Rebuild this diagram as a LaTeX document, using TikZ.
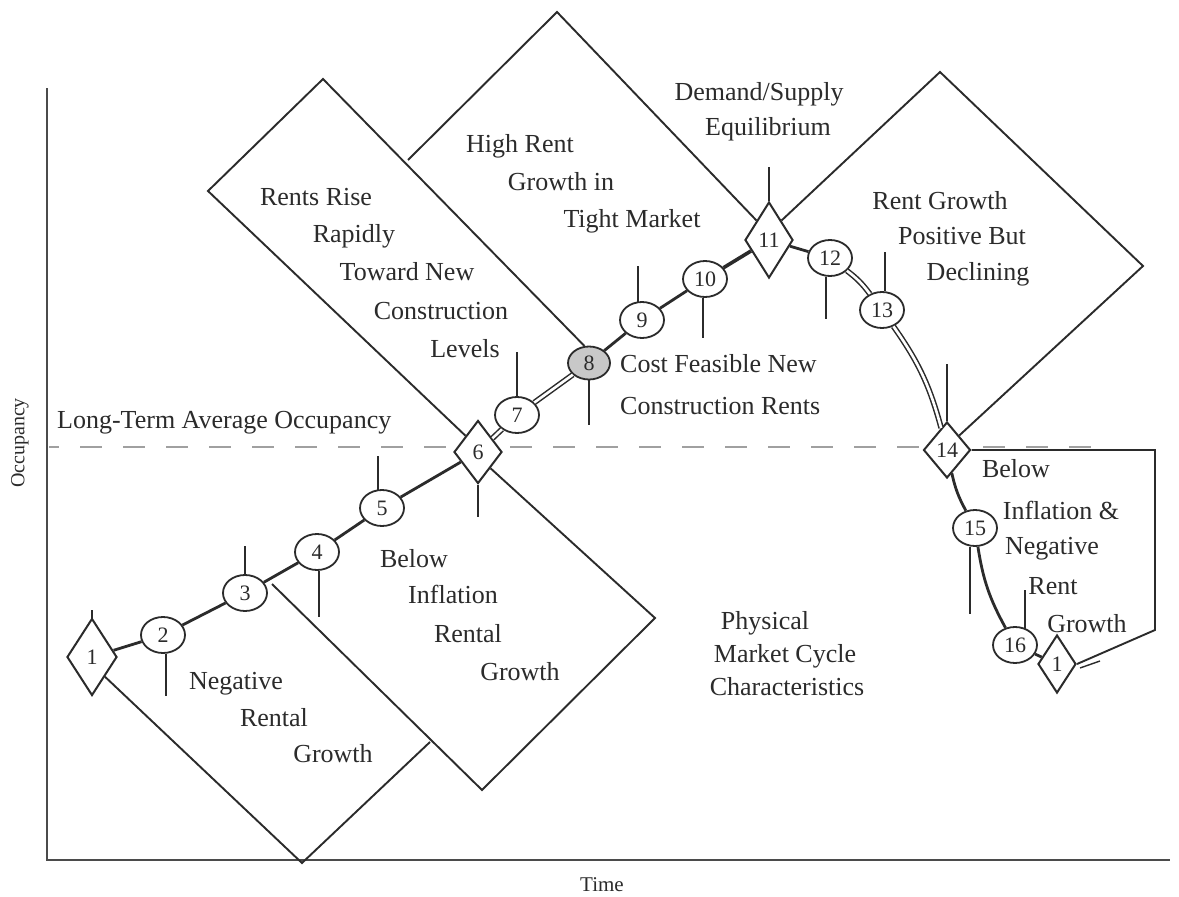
\documentclass[tikz,border=0pt]{standalone}
\usepackage{fontspec}
\setmainfont{Liberation Serif}
\usetikzlibrary{shapes.geometric}
\definecolor{ink}{HTML}{2B2B2B}
\definecolor{shade}{HTML}{C8C8C8}
\definecolor{avgline}{HTML}{A0A0A0}
\begin{document}
\begin{tikzpicture}[x=1pt,y=-1pt,
  lbl/.style={font=\fontsize{26}{28}\selectfont, text=ink, inner sep=0pt, anchor=base},
  stage/.style={ellipse, draw=ink, line width=1.8pt, fill=white, minimum width=44pt,
    minimum height=36pt, inner sep=0pt, text=ink, font=\fontsize{22}{22}\selectfont},
  turn/.style={diamond, draw=ink, line width=2pt, fill=white, inner sep=0pt, text=ink,
    font=\fontsize{22}{22}\selectfont},
  frame/.style={draw=ink, line width=1.9pt, line join=miter},
  trend/.style={draw=ink, line width=2.8pt},
  twin/.style={draw=ink, line width=1.5pt, double=white, double distance=2.6pt},
  tick/.style={draw=ink, line width=1.8pt},
  axis/.style={draw=ink!85, line width=2.5pt},
  avg/.style={draw=avgline, line width=2.5pt, dash pattern=on 22pt off 21pt, dash phase=12pt},
]
\fill[white] (0,0) rectangle (1179,897);
\useasboundingbox (0,0) rectangle (1179,897);

% axes and the long-term average
\draw[axis] (47,88) -- (47,860) -- (1170,860);
\draw[avg] (49,447) -- (1100,447);

% cycle stages
\node[turn, minimum width=50pt, minimum height=77pt] (d1) at (92,657) {1};
\node[stage] (c2) at (163,635) {2};
\node[stage] (c3) at (245,593) {3};
\node[stage] (c4) at (317,552) {4};
\node[stage] (c5) at (382,508) {5};
\node[turn, minimum width=48pt, minimum height=63pt] (d6) at (478,452) {6};
\node[stage] (c7) at (517,415) {7};
\node[stage, fill=shade, minimum width=42pt, minimum height=33pt] (c8) at (589,363) {8};
\node[stage] (c9) at (642,320) {9};
\node[stage] (c10) at (705,279) {10};
\node[turn, minimum width=48pt, minimum height=76pt] (d11) at (769,240) {11};
\node[stage] (c12) at (830,258) {12};
\node[stage] (c13) at (882,310) {13};
\node[turn, minimum width=47pt, minimum height=56pt] (d14) at (947,450) {14};
\node[stage] (c15) at (975,528) {15};
\node[stage] (c16) at (1015,645) {16};
\node[turn, minimum width=38pt, minimum height=58pt] (d1b) at (1057,664) {1};

% corners of the phase boxes
\coordinate (aB) at (302,863);
\coordinate (aR) at (430,742);
\coordinate (bL) at (272,584);
\coordinate (bB) at (482,790);
\coordinate (bR) at (655,618);
\coordinate (cL) at (208,191);
\coordinate (cT) at (323,79);
\coordinate (dL) at (408,160);
\coordinate (dT) at (557,12);
\coordinate (eT) at (940,72);
\coordinate (eR) at (1143,266);
\coordinate (fT) at (1155,450);
\coordinate (fB) at (1155,630);

% phase boxes
\draw[frame] (d1.south east) -- (aB) -- (aR);
\draw[frame] (bL) -- (bB) -- (bR) -- (d6.south east);
\draw[frame] (d6.north west) -- (cL) -- (cT) -- (c8.105);
\draw[frame] (dL) -- (dT) -- (d11.north west);
\draw[frame] (d11.north east) -- (eT) -- (eR) -- (d14.north east);
\draw[frame] (d14.east) -- (fT) -- (fB) -- (d1b.east);
\draw[draw=ink, line width=1.4pt] ([shift={(3,4)}]d1b.east) -- ++(20,-7);

% the occupancy path
\draw[trend] (d1) -- (c2);
\draw[trend] (c2) -- (c3);
\draw[trend] (c3) -- (c4);
\draw[trend] (c4) -- (c5);
\draw[trend] (c5) -- (d6);
\draw[twin] (d6) -- (c7);
\draw[twin] (c7) -- (c8);
\draw[trend] (c8) -- (c9);
\draw[trend] (c9) -- (c10);
\draw[trend, line width=3.6pt] (c10) -- (d11);
\draw[trend] (d11) -- (c12);
\draw[twin] (c12) to[bend left=8] (c13);
\draw[twin] (c13) to[bend left=10] (d14);
\draw[trend] (d14) to[bend right=8] (c15);
\draw[trend] (c15) to[bend right=10] (c16);
\draw[trend] (c16) -- (d1b);

% stage markers
\draw[tick] (d1.north) -- ++(0,-8);
\draw[tick] ([shift={(3,0)}]c2.south) -- ++(0,42);
\draw[tick] (c3.north) -- ++(0,-28);
\draw[tick] ([shift={(2,0)}]c4.south) -- ++(0,46);
\draw[tick] ([shift={(-4,1)}]c5.north) -- ++(0,-34);
\draw[tick] (d6.south) -- ++(0,32);
\draw[tick] (c7.north) -- ++(0,-44);
\draw[tick] (c8.south) -- ++(0,45);
\draw[tick] ([shift={(-4,1)}]c9.north) -- ++(0,-36);
\draw[tick] ([shift={(-2,0)}]c10.south) -- ++(0,40);
\draw[tick] (d11.north) -- ++(0,-34);
\draw[tick] ([shift={(-4,0)}]c12.south) -- ++(0,42);
\draw[tick] ([shift={(3,0)}]c13.north) -- ++(0,-39);
\draw[tick] (d14.north) -- ++(0,-57);
\draw[tick] ([shift={(-5,0)}]c15.south) -- ++(0,67);
\draw[tick] ([shift={(10,3)}]c16.north) -- ++(0,-39);

% labels
\node[lbl, anchor=base west] (avgtxt) at (57,428) {Long-Term Average Occupancy};
\node[font=\fontsize{20}{20}\selectfont, text=ink, rotate=90] (ylab) at (20,443) {Occupancy};
\node[font=\fontsize{21}{21}\selectfont, text=ink] (xlab) at (602,885) {Time};

\node[lbl] (a1) at (236,689) {Negative};
\node[lbl] (a2) at (274,726) {Rental};
\node[lbl] (a3) at (333,762) {Growth};

\node[lbl] (b1) at (414,567) {Below};
\node[lbl] (b2) at (453,603) {Inflation};
\node[lbl] (b3) at (468,642) {Rental};
\node[lbl] (b4) at (520,680) {Growth};

\node[lbl] (r1) at (316,205) {Rents Rise};
\node[lbl] (r2) at (354,242) {Rapidly};
\node[lbl] (r3) at (407,280) {Toward New};
\node[lbl] (r4) at (441,319) {Construction};
\node[lbl] (r5) at (465,357) {Levels};

\node[lbl] (h1) at (520,152) {High Rent};
\node[lbl] (h2) at (561,190) {Growth in};
\node[lbl] (h3) at (632,227) {Tight Market};

\node[lbl] (q1) at (759,100) {Demand/Supply};
\node[lbl] (q2) at (768,135) {Equilibrium};

\node[lbl] (p1) at (940,209) {Rent Growth};
\node[lbl] (p2) at (962,244) {Positive But};
\node[lbl] (p3) at (978,280) {Declining};

\node[lbl, anchor=base west] (k1) at (620,372) {Cost Feasible New};
\node[lbl, anchor=base west] (k2) at (620,414) {Construction Rents};

\node[lbl] (m1) at (765,629) {Physical};
\node[lbl] (m2) at (785,662) {Market Cycle};
\node[lbl] (m3) at (787,695) {Characteristics};

\node[lbl] (n1) at (1016,477) {Below};
\node[lbl] (n2) at (1061,519) {Inflation \&};
\node[lbl] (n3) at (1052,554) {Negative};
\node[lbl] (n4) at (1053,594) {Rent};
\node[lbl] (n5) at (1087,632) {Growth};
\end{tikzpicture}
\end{document}
